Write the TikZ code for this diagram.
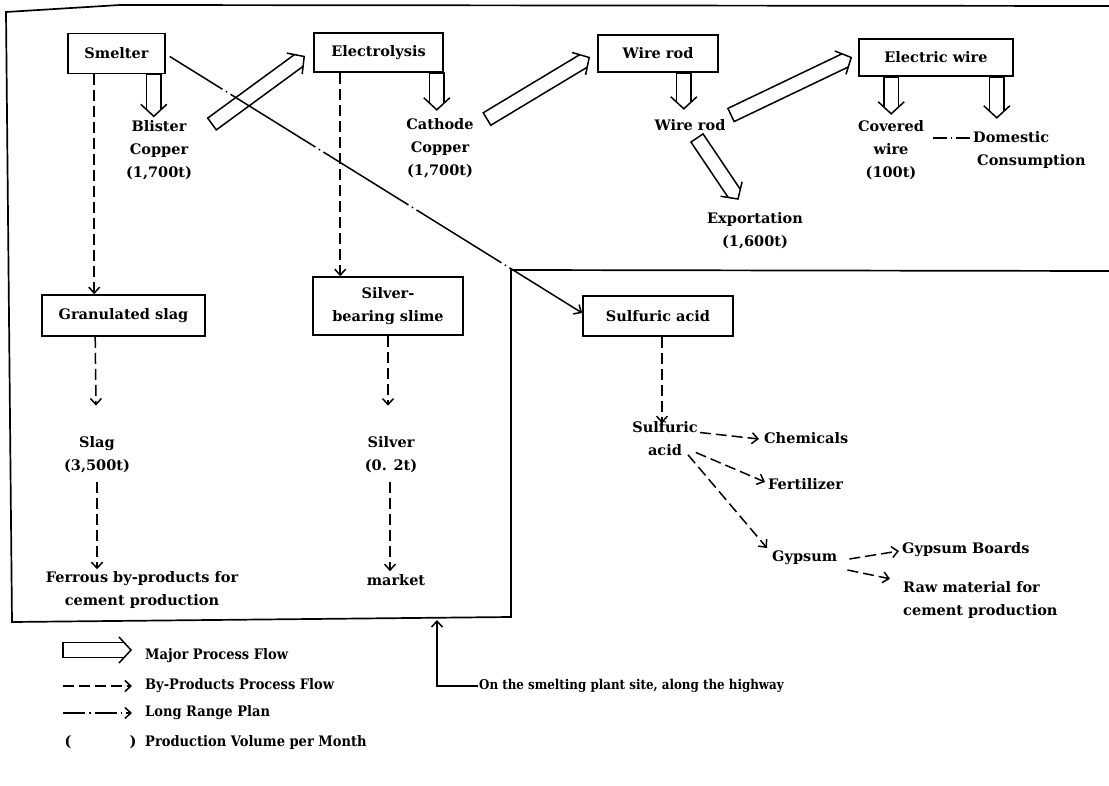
\documentclass[tikz,border=0pt]{standalone}
\usepackage{fontspec}
\setmainfont{DejaVu Serif}
\usetikzlibrary{arrows.meta,calc}

\newcommand{\lbfont}{\fontsize{14.5}{23}\selectfont\bfseries}
\newcommand{\keytext}[1]{\scalebox{0.9}[1]{#1}}

\tikzset{
  procbox/.style={draw, line width=1.6pt, inner sep=0pt, align=center, font=\lbfont},
  lbl/.style={inner sep=1pt, align=center, font=\lbfont},
  keylbl/.style={inner sep=1pt, anchor=west, font=\lbfont},
  majorshape/.style={draw, line width=1.5pt, line join=miter},
  bytip/.style={-{Straight Barb[length=6pt,width=11pt]}},
  byflow/.style={line width=1.5pt, dash pattern=on 11pt off 5pt, bytip},
  longplan/.style={line width=1.5pt, dash pattern=on 100pt off 4pt on 1.5pt off 4pt, dash phase=38pt, bytip},
  frameline/.style={line width=1.7pt, line join=miter},
}

% open-headed process arrow from #1 (tail) to #2 (tip)
\newcommand{\majorflow}[2]{%
  \coordinate (mh) at ($(#2)!12pt!(#1)$);
  \coordinate (mj) at ($(#2)!6.8pt!(#1)$);
  \draw[majorshape] ($(mj)!7.3pt!-90:(#1)$) -- ($(#1)!7.3pt!90:(#2)$)
    -- ($(#1)!7.3pt!-90:(#2)$) -- ($(mj)!7.3pt!90:(#1)$);
  \draw[majorshape] ($(mh)!13pt!-90:(#1)$) -- (#2) -- ($(mh)!13pt!90:(#1)$);
}

\begin{document}
\begin{tikzpicture}[x=1pt,y=-1pt]
\useasboundingbox (0,0) rectangle (1109,786);
\fill[white] (0,0) rectangle (1109,786);

% site outline
\draw[frameline] (1109,6) -- (120,5) -- (6,12) -- (12,622) -- (511,617) -- (511,270) -- (1109,271);

% process boxes
\node[procbox, minimum width=97pt, minimum height=40pt] (smelter) at (116.5,53.5) {Smelter};
\node[procbox, minimum width=129pt, minimum height=39pt] (electro) at (378.5,52.5) {Electrolysis};
\node[procbox, minimum width=120pt, minimum height=37pt] (wrbox) at (658,53.5) {Wire rod};
\node[procbox, minimum width=154pt, minimum height=37pt] (ewire) at (936,57.5) {Electric wire};
\node[procbox, minimum width=163pt, minimum height=41pt] (gslag) at (123.5,315.5) {Granulated slag};
\node[procbox, minimum width=150pt, minimum height=58pt] (slime) at (388,306) {Silver-\\bearing slime};
\node[procbox, minimum width=150pt, minimum height=40pt] (sbox) at (658,316) {Sulfuric acid};

% products
\node[lbl] (blister) at (159,150) {Blister\\Copper\\(1,700t)};
\node[lbl] (cathode) at (440,148.5) {Cathode\\Copper\\(1,700t)};
\node[lbl] (wrod) at (690,125) {Wire rod};
\node[lbl] (export) at (755,230.5) {Exportation\\(1,600t)};
\node[lbl] (covered) at (891,150.5) {Covered\\wire\\(100t)};
\node[lbl, align=left, anchor=west] (domestic) at (972,150) {Domestic\\\hspace*{4pt}Consumption};
\node[lbl] (slag) at (97,455) {Slag\\(3,500t)};
\node[lbl] (ferrous) at (142,590) {Ferrous by-products for\\cement production};
\node[lbl] (silver) at (391,455) {Silver\\(0. 2t)};
\node[lbl] (market) at (396,580) {market};
\node[lbl] (sulf) at (665,438.5) {Sulfuric\\acid};
\node[lbl, anchor=west] (chem) at (763,438) {Chemicals};
\node[lbl, anchor=west] (fert) at (767,484) {Fertilizer};
\node[lbl, anchor=west] (gyp) at (771,558) {Gypsum};
\node[lbl, anchor=west] (boards) at (901,550) {Gypsum Boards};
\node[lbl, anchor=west, align=left] (raw) at (902,599.5) {Raw material for\\cement production};

% major process flow
\coordinate (a1) at ($(smelter.south east)+(-12,0)$);
\coordinate (a1t) at ($(a1)+(0,42)$);
\majorflow{a1}{a1t}
\coordinate (a2) at (212,124);
\coordinate (a2t) at ($(electro.west)+(-9,4)$);
\majorflow{a2}{a2t}
\coordinate (a3) at ($(electro.south east)+(-7,0)$);
\coordinate (a3t) at ($(a3)+(0,37)$);
\majorflow{a3}{a3t}
\coordinate (a4) at (487,119);
\coordinate (a4t) at ($(wrbox.west)+(-8,4)$);
\majorflow{a4}{a4t}
\coordinate (a5) at ($(wrbox.south east)+(-35,0)$);
\coordinate (a5t) at ($(a5)+(0,36)$);
\majorflow{a5}{a5t}
\coordinate (a6) at (731,115);
\coordinate (a6t) at ($(ewire.west)+(-7,0)$);
\majorflow{a6}{a6t}
\coordinate (a7) at (697,138);
\coordinate (a7t) at (738,199);
\majorflow{a7}{a7t}
\coordinate (a8) at ($(ewire.south west)+(33,0)$);
\coordinate (a8t) at ($(a8)+(0,37)$);
\majorflow{a8}{a8t}
\coordinate (a9) at ($(ewire.south east)+(-17,0)$);
\coordinate (a9t) at ($(a9)+(0,41)$);
\majorflow{a9}{a9t}

% by-product flow
\draw[byflow] ($(smelter.south west)+(27,0)$) -- ($(gslag.north west)+(53,0)$);
\draw[byflow] ($(electro.south west)+(27,0)$) -- ($(slime.north west)+(28,0)$);
\draw[byflow] ($(gslag.south west)+(54,0)$) -- ($(slag.north)+(-1,-30)$);
\draw[byflow] ($(slag.south)+(0,8)$) -- ($(ferrous.north)+(-45,-1)$);
\draw[byflow] (slime.south) -- ($(silver.north)+(-3,-30)$);
\draw[byflow] ($(silver.south)+(-1,8)$) -- ($(market.north)+(-6,-2)$);
\draw[byflow] ($(sbox.south)+(4,0)$) -- ($(sulf.north)+(-3,3)$);
\draw[byflow] ($(sulf.east)+(1,-6)$) -- ($(chem.west)+(-4,1)$);
\draw[byflow] ($(sulf.east)+(-3,14)$) -- ($(fert.west)+(-2,-2)$);
\draw[byflow] ($(sulf.south)+(23,-2)$) -- ($(gyp.west)+(-4,-10)$);
\draw[byflow] ($(gyp.east)+(11,1)$) -- ($(boards.west)+(-2,1)$);
\draw[byflow] ($(gyp.east)+(9,12)$) -- ($(raw.north west)+(-12,-1)$);

% long range plan
\draw[longplan] ($(smelter.east)+(4,3)$) -- ($(sbox.west)+(0,-3)$);
\coordinate (cd) at (933,138);
\draw[line width=1.5pt, dash pattern=on 14pt off 3.5pt on 1.5pt off 3.5pt] (cd) -- (domestic.west |- cd);

% site note
\node[inner sep=1pt, anchor=west, font=\fontsize{13.5}{16}\selectfont\bfseries] (site) at (478,686)
  {\scalebox{0.88}[1]{On the smelting plant site, along the highway}};
\coordinate (sitecorner) at (437,686);
\coordinate (siteedge) at (437,620);
\draw[line width=1.5pt, bytip] (site.west) -- (sitecorner) -- (siteedge);

% legend
\coordinate (l1) at (63,650);
\coordinate (l1t) at (131,650);
\majorflow{l1}{l1t}
\node[keylbl] (k1) at (144,656) {\keytext{Major Process Flow}};
\node[keylbl] (k2) at (144,686) {\keytext{By-Products Process Flow}};
\draw[byflow] (63,686) -- ($(k2.west)+(-12,0)$);
\node[keylbl] (k3) at (144,713) {\keytext{Long Range Plan}};
\draw[line width=1.5pt, dash pattern=on 22pt off 4pt on 1.5pt off 4pt, bytip] (63,713) -- ($(k3.west)+(-12,0)$);
\node[keylbl] (k4) at (144,742) {\keytext{Production Volume per Month}};
\node[lbl] (po) at (68,742) {(};
\node[lbl] (pc) at (133,742) {)};
\end{tikzpicture}
\end{document}
